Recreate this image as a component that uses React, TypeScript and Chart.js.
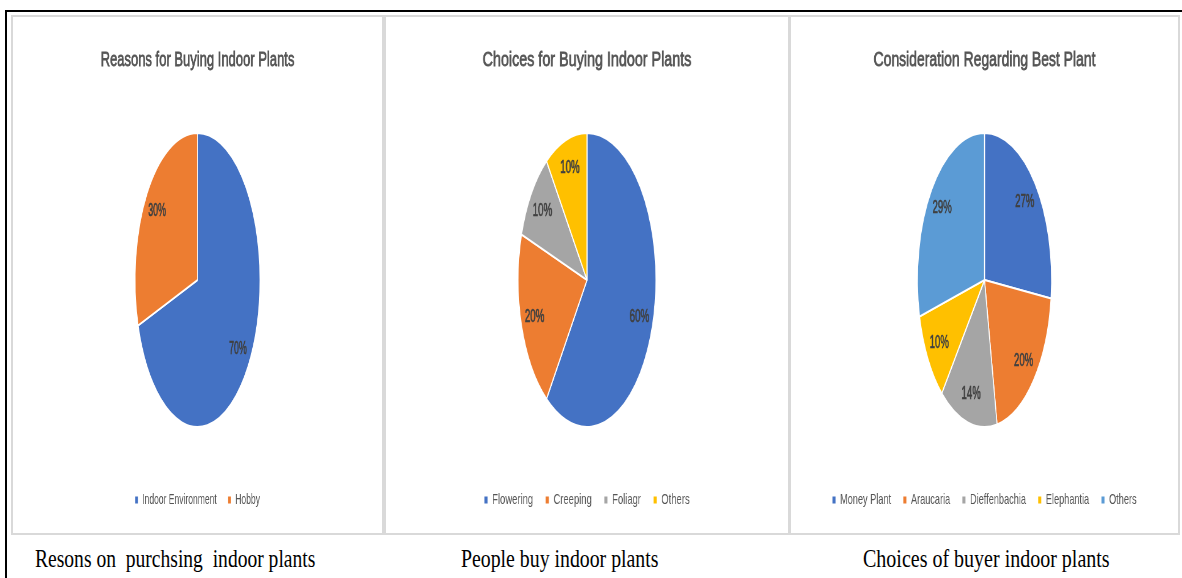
import React, { useEffect, useRef } from 'react';
import { Chart, registerables } from 'chart.js';

Chart.register(...registerables);

// ---------- data ----------
const reasonTitle = 'Reasons for Buying Indoor Plants';
const reasonLabels = ['Indoor Environment', 'Hobby'];
const reasonValues = [70, 30];

const choiceTitle = 'Choices for Buying Indoor Plants';
const choiceLabels = ['Flowering', 'Creeping', 'Foliagr', 'Others'];
const choiceValues = [60, 20, 10, 10];

const bestTitle = 'Consideration Regarding Best Plant';
const bestLabels = ['Money Plant', 'Araucaria', 'Dieffenbachia', 'Elephantia', 'Others'];
const bestValues = [27, 20, 14, 10, 29];

const captions = [
  'Resons on  purchsing  indoor plants',
  'People buy indoor plants',
  'Choices of buyer indoor plants',
];

const officeColors = ['#4472C4', '#ED7D31', '#A5A5A5', '#FFC000', '#5B9BD5'];

// ---------- layout ----------
const FONT = '"Liberation Sans", Arial, sans-serif';
const PANEL_TOP = 15;
const PANEL_H = 520;
const LEGEND_RATIO = 1.34;
const TITLE_RATIO = 1.53;
const LABEL_RATIO = 1.1;

const panels = [
  { left: 11, width: 373, squeeze: 0.425, captionLeft: 35, captionScale: 0.978 },
  { left: 384, width: 406, squeeze: 0.469, captionLeft: 461, captionScale: 0.99 },
  { left: 789, width: 391, squeeze: 0.456, captionLeft: 863, captionScale: 1 },
];

type PanelProps = {
  title: string;
  labels: string[];
  values: number[];
  panel: { left: number; width: number; squeeze: number };
};

function PiePanel({ title, labels, values, panel }: PanelProps) {
  const ref = useRef<HTMLCanvasElement>(null);
  const displayW = panel.width - 4;
  const H = PANEL_H - 4;
  const cssF = panel.squeeze * LEGEND_RATIO;
  const internalW = Math.round(displayW / cssF);

  useEffect(() => {
    const canvas = ref.current;
    if (!canvas) return;
    const pieSqueeze = panel.squeeze / cssF;
    const titleScale = (panel.squeeze * TITLE_RATIO) / cssF;
    const labelScale = (panel.squeeze * LABEL_RATIO) / cssF;

    const squeezePlugin = {
      id: 'squeezePie',
      beforeDatasetsDraw(chart: any) {
        const ctx = chart.ctx;
        const cx = (chart.chartArea.left + chart.chartArea.right) / 2;
        ctx.save();
        ctx.translate(cx, 0);
        ctx.scale(pieSqueeze, 1);
        ctx.translate(-cx, 0);
      },
      afterDatasetsDraw(chart: any) {
        const ctx = chart.ctx;
        ctx.restore();
        const meta = chart.getDatasetMeta(0);
        const data = chart.data.datasets[0].data;
        ctx.save();
        ctx.font = '19px ' + FONT;
        ctx.fillStyle = '#404040';
        ctx.strokeStyle = '#404040';
        ctx.lineWidth = 0.7;
        ctx.textAlign = 'center';
        ctx.textBaseline = 'middle';
        meta.data.forEach((arc: any, i: number) => {
          const p = arc.getProps(['x', 'y', 'startAngle', 'endAngle', 'outerRadius'], true);
          const mid = (p.startAngle + p.endAngle) / 2;
          const r = p.outerRadius * 0.8;
          const px = p.x + r * Math.cos(mid) * pieSqueeze;
          const py = p.y + r * Math.sin(mid);
          ctx.save();
          ctx.translate(px, py);
          ctx.scale(labelScale, 1);
          ctx.fillText(data[i] + '%', 0, 0);
          ctx.strokeText(data[i] + '%', 0, 0);
          ctx.restore();
        });
        ctx.restore();
      },
      afterDraw(chart: any) {
        const ctx = chart.ctx;
        ctx.save();
        ctx.font = '20px ' + FONT;
        ctx.fillStyle = '#555555';
        ctx.strokeStyle = '#555555';
        ctx.lineWidth = 0.8;
        ctx.textAlign = 'center';
        ctx.textBaseline = 'alphabetic';
        ctx.translate(chart.width / 2, 48.5);
        ctx.scale(titleScale, 1);
        ctx.fillText(title, 0, 0);
        ctx.strokeText(title, 0, 0);
        ctx.restore();
      },
    };

    const baseGen =
      ((Chart as any).overrides.pie?.plugins?.legend?.labels?.generateLabels) ||
      (Chart as any).overrides.doughnut.plugins.legend.labels.generateLabels;

    const chart = new Chart(canvas, {
      type: 'pie',
      data: {
        labels,
        datasets: [
          {
            data: values,
            backgroundColor: officeColors.slice(0, values.length),
            borderColor: '#ffffff',
            borderWidth: 2,
            radius: 147,
            hoverOffset: 0,
            clip: false as any,
          } as any,
        ],
      },
      options: {
        responsive: false,
        maintainAspectRatio: false,
        animation: false,
        devicePixelRatio: 1,
        events: [],
        layout: { padding: { top: 70.5, bottom: 15.5, left: 0, right: 0 } },
        plugins: {
          title: { display: false },
          tooltip: { enabled: false },
          legend: {
            display: true,
            position: 'bottom',
            labels: {
              font: { size: 15, family: FONT },
              color: '#555555',
              boxWidth: 5,
              boxHeight: 7,
              padding: 20,
              generateLabels: (c: any) =>
                baseGen(c).map((l: any) => ({ ...l, lineWidth: 0, strokeStyle: 'rgba(0,0,0,0)' })),
            },
          },
        },
      } as any,
      plugins: [squeezePlugin as any],
    });
    return () => chart.destroy();
  }, []);

  return (
    <div
      style={{
        position: 'absolute',
        left: panel.left,
        top: PANEL_TOP,
        width: panel.width,
        height: PANEL_H,
        border: '2px solid #d9d9d9',
        boxSizing: 'border-box',
        background: '#ffffff',
      }}
    >
      <canvas
        ref={ref}
        width={internalW}
        height={H}
        style={{ position: 'absolute', left: 0, top: 0, width: displayW + 'px', height: H + 'px' }}
      />
    </div>
  );
}

export default function App() {
  const charts = [
    { title: reasonTitle, labels: reasonLabels, values: reasonValues },
    { title: choiceTitle, labels: choiceLabels, values: choiceValues },
    { title: bestTitle, labels: bestLabels, values: bestValues },
  ];
  return (
    <div
      style={{
        position: 'fixed',
        left: 0,
        top: 0,
        width: 1182,
        height: 578,
        overflow: 'hidden',
        background: '#ffffff',
      }}
    >
      <div
        style={{
          position: 'absolute',
          left: 5,
          top: 10,
          width: 1220,
          height: 620,
          borderLeft: '2px solid #000',
          borderTop: '2px solid #000',
        }}
      />
      {charts.map((c, i) => (
        <PiePanel key={i} title={c.title} labels={c.labels} values={c.values} panel={panels[i]} />
      ))}
      {captions.map((t, i) => (
        <div
          key={'cap' + i}
          style={{
            position: 'absolute',
            left: panels[i].captionLeft,
            top: 546,
            fontFamily: '"Liberation Serif", "Times New Roman", serif',
            fontSize: 20,
            lineHeight: '20px',
            whiteSpace: 'pre',
            color: '#000',
            transform: 'scale(' + panels[i].captionScale + ', 1.25)',
            transformOrigin: 'left top',
          }}
        >
          {t}
        </div>
      ))}
    </div>
  );
}
